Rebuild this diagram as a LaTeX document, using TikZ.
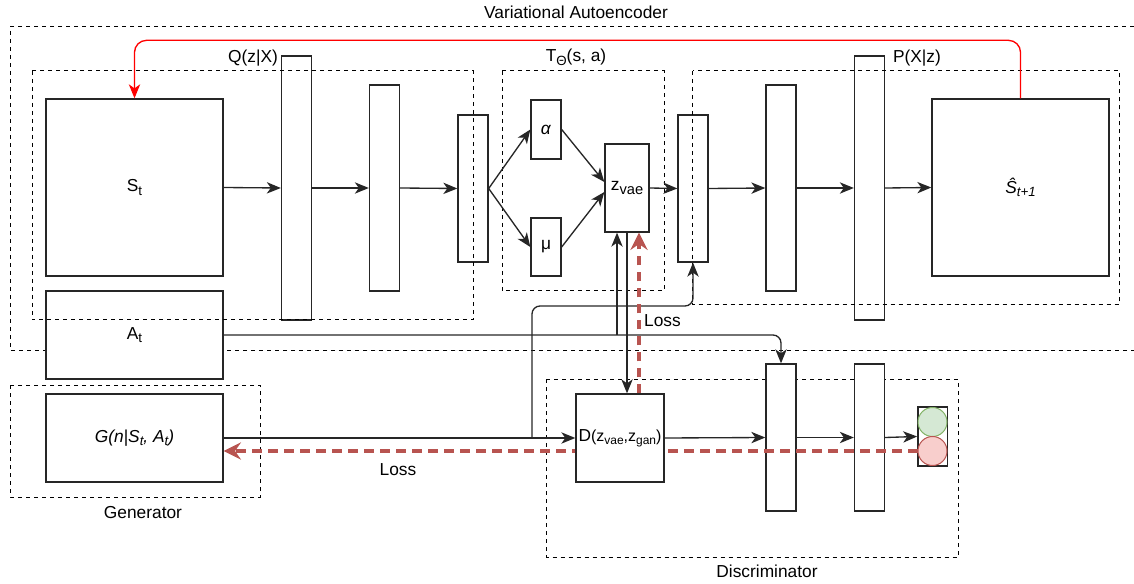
\documentclass[tikz,border=0pt]{standalone}
\usepackage{fontspec}
\setmainfont{Liberation Sans}
\usetikzlibrary{arrows.meta}
\definecolor{lossred}{HTML}{B85450}
\definecolor{loopred}{HTML}{FF0000}
\definecolor{realfill}{HTML}{D5E8D4}
\definecolor{realline}{HTML}{82B366}
\definecolor{fakefill}{HTML}{F8CECC}
\newcommand{\lowidx}[2][10pt]{\raisebox{-0.35ex}{\fontsize{#1}{#1}\selectfont #2}}
\tikzset{
  >={Stealth[length=10.5pt,width=8.5pt,inset=3pt]},
  blk/.style={draw=black!85, line width=1pt, fill=white, inner sep=0pt, align=center},
  square/.style={blk, minimum width=132.75pt, minimum height=132.75pt},
  flat/.style={blk, minimum width=132.75pt, minimum height=66pt},
  layer/.style={blk, minimum width=22.5pt},
  group/.style={draw=black, line width=0.75pt, dash pattern=on 3pt off 3pt},
  flow/.style={->, line width=1pt, draw=black!85},
  loss/.style={-{Stealth[length=13pt,width=13pt,inset=4.5pt]}, draw=lossred,
               line width=2.8pt, dash pattern=on 7pt off 5pt},
  dot/.style={circle, minimum size=21.75pt, inner sep=0pt, line width=0.75pt},
}

\begin{document}
\begin{tikzpicture}[x=0.75pt, y=-0.75pt, font=\fontsize{13pt}{15pt}\selectfont]
    \useasboundingbox (0,0) rectangle (1134,584);
    \draw[group] (1150,27) -- (10,27) -- (10,350) -- (1150,350);
    \draw[group] (10,385) rectangle (260,497);
    \draw[group] (546.5,379) rectangle (958,557);
    \node[anchor=base] (vaelabel) at (576,19) {Variational Autoencoder};
    \node[anchor=base] (genlabel) at (143,518) {Generator};
    \node[anchor=base] (disclabel) at (767,577.5) {Discriminator};

    \node[square] (st) at (134.5,187.5) {S\lowidx{t}};
    \node[flat] (act) at (134.5,335) {A\lowidx{t}};
    \node[flat] (gen) at (134.5,438) {\textit{G(n|S\lowidx{t}, A\lowidx{t})}};
    \node[layer, minimum height=198pt] (e1) at (296.5,188) {};
    \node[layer, minimum height=154.5pt] (e2) at (384.5,188) {};
    \node[layer, minimum height=110.25pt] (e3) at (473,188.5) {};
    \node[layer, minimum height=44.25pt] (alpha) at (546,129.5) {\textit{α}};
    \node[layer, minimum height=43.5pt] (mu) at (546,247) {μ};
    \node[blk, minimum width=33pt, minimum height=66pt] (zvae) at (627,188) {z\lowidx[11pt]{vae}};
    \node[layer, minimum height=110.25pt] (d1) at (693,188.5) {};
    \node[layer, minimum height=154.5pt] (d2) at (781,188) {};
    \node[layer, minimum height=198pt] (d3) at (869.5,188) {};
    \node[square] (shat) at (1020.5,187.5) {\textit{Ŝ\lowidx{t+1}}};
    \node[layer, minimum height=110.25pt] (c1) at (781,437.5) {};
    \node[layer, minimum height=110.25pt] (c2) at (869.5,437.5) {};
    \node[blk, minimum width=22pt, minimum height=44.25pt] (score) at (932.5,436.5) {};
    \node[dot, draw=realline, fill=realfill] (real) at (932.5,422) {};
    \node[dot, draw=lossred, fill=fakefill] (fake) at (932.5,451) {};

    \draw[group] (32,71) rectangle (473,320);
    \draw[group] (502,71) rectangle (664,291);
    \draw[group] (692.5,71) rectangle (1119,305);
    \node[anchor=base] (enclabel) at (253,63) {Q(z|X)};
    \node[anchor=base] (tlabel) at (576,62) {T\lowidx{Θ}(s, a)};
    \node[anchor=base] (declabel) at (917,63) {P(X|z)};

    \draw[flow] (st.east) -- (e1.west);
    \draw[flow] (e1.east) -- (e2.west);
    \draw[flow] (e2.east) -- (e3.west);
    \draw[flow] (e3.east) -- (alpha.west);
    \draw[flow] (e3.east) -- (mu.west);
    \draw[flow] (alpha.east) -- ([yshift=4.5pt]zvae.west);
    \draw[flow] (mu.east) -- ([yshift=-3pt]zvae.west);
    \draw[flow] (zvae.east) -- (d1.west);
    \draw[flow] (d1.east) -- (d2.west);
    \draw[flow] (d2.east) -- (d3.west);
    \draw[flow] (d3.east) -- (shat.west);
    \draw[->, draw=loopred, line width=1pt, rounded corners=9pt]
      (shat.north) -- ++(0,-58) -| (st.north);

    \coordinate (zin) at ([xshift=-7.5pt]zvae.south);
    \draw[flow, rounded corners=6pt] (act.east) -| (c1.north);
    \draw[flow] (act.east -| zin) -- (zin);

    \draw[loss] (fake.west) -- (fake.west -| gen.east);
    \node[blk, minimum width=66pt, minimum height=66pt] (disc) at (620,438)
      {D{\fontsize{12pt}{14pt}\selectfont(z\lowidx[9pt]{vae},z\lowidx[9pt]{gan})}};
    \draw[flow] (gen.east) -- (disc.west);
    \coordinate (gj) at (532,438);
    \coordinate (gturn) at (693,306);
    \draw[flow, rounded corners=6pt] (gj) |- (gturn) -- (d1.south);
    \draw[flow] (disc.east) -- (c1.west);
    \draw[flow] (c1.east) -- (c2.west);
    \draw[flow] (c2.east) -- (score.west);
    \draw[flow] (zvae.south) -- (zvae.south |- disc.north);
    \coordinate (zloss) at ([xshift=9pt]zvae.south);
    \draw[loss] (disc.north -| zloss) -- (zloss);
    \node[anchor=base] (loss1) at (662.5,327) {Loss};
    \node[anchor=base] (loss2) at (398,475) {Loss};
\end{tikzpicture}
\end{document}
